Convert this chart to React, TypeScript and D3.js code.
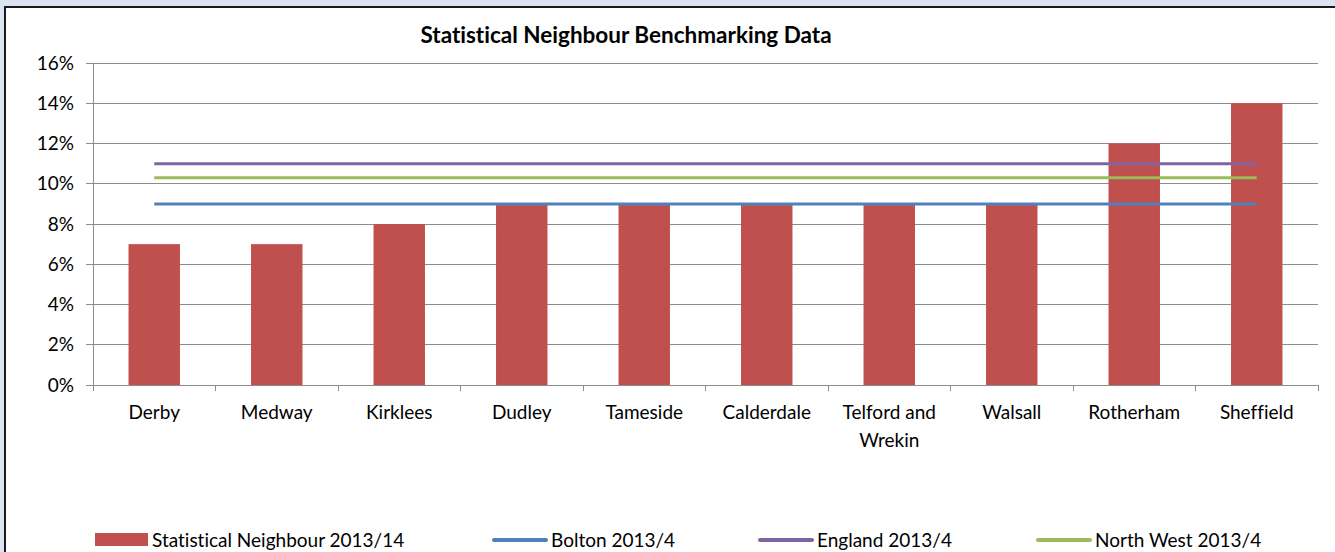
import * as d3 from "d3";

// values
const areas = ["Derby", "Medway", "Kirklees", "Dudley", "Tameside", "Calderdale", "Telford and Wrekin", "Walsall", "Rotherham", "Sheffield"];
const neighbourVals = [7, 7, 8, 9, 9, 9, 9, 9, 12, 14];
const refLines = [
  { label: "Bolton 2013/4", value: 9, color: "#4f81bd" },
  { label: "England 2013/4", value: 11, color: "#8064a2" },
  { label: "North West 2013/4", value: 10.3, color: "#9bbb59" },
];
const yTicks = [0, 2, 4, 6, 8, 10, 12, 14, 16];

const W = 1335, H = 552;
const FONT = "Lato, 'Open Sans', sans-serif";
const BAR = "#c0504d";
const FS = 19;

export default function App() {
  const x = d3.scaleBand<string>().domain(areas).range([93, 1318]).paddingInner(0.58).paddingOuter(0.29);
  const band = d3.scaleBand<string>().domain(areas).range([93, 1318]);
  const y = d3.scaleLinear().domain([0, 16]).range([385, 63]);
  const mid = (a: string) => (band(a) ?? 0) + band.bandwidth() / 2;
  const first = mid(areas[0]), last = mid(areas[areas.length - 1]);

  const legend = [
    { label: "Statistical Neighbour 2013/14", x: 95, kind: "bar", color: BAR },
    { label: refLines[0].label, x: 494, kind: "line", color: refLines[0].color },
    { label: refLines[1].label, x: 760, kind: "line", color: refLines[1].color },
    { label: refLines[2].label, x: 1038, kind: "line", color: refLines[2].color },
  ];

  return (
    <svg width={W} height={H}
         style={{ position: "absolute", left: 0, top: 0, background: "#fff", fontVariantLigatures: "none" }}
         fontFamily={FONT}>
      {/* frame */}
      <rect x={0} y={0} width={W} height={6} fill="#dbe5f1" />
      <rect x={0} y={0} width={4} height={H} fill="#dbe5f1" />
      <line x1={5} y1={7} x2={W} y2={7} stroke="#1a1a1a" strokeWidth={2} />
      <line x1={5} y1={6} x2={5} y2={H} stroke="#1a1a1a" strokeWidth={2} />

      <text x={626} y={43} textAnchor="middle" fontWeight="bold" fontSize={22.5} fill="#000">
        Statistical Neighbour Benchmarking Data
      </text>

      {/* grid + y axis */}
      {yTicks.map((t) => (
        <g key={t}>
          <line x1={86} x2={1318} y1={y(t)} y2={y(t)} stroke="#8c8c8c" strokeWidth={1} shapeRendering="crispEdges" />
          <text x={74} y={y(t)} dy="0.35em" textAnchor="end" fontSize={FS} fill="#000">{t}%</text>
        </g>
      ))}
      <line x1={93} x2={93} y1={63} y2={391} stroke="#8c8c8c" shapeRendering="crispEdges" />
      {areas.map((a) => (
        <line key={a} x1={(band(a) ?? 0) + band.bandwidth()} x2={(band(a) ?? 0) + band.bandwidth()}
              y1={385} y2={391} stroke="#8c8c8c" shapeRendering="crispEdges" />
      ))}

      {/* bars */}
      {areas.map((a, i) => (
        <rect key={a} x={x(a)} y={y(neighbourVals[i])} width={x.bandwidth()}
              height={y(0) - y(neighbourVals[i])} fill={BAR} />
      ))}

      {/* reference lines */}
      {refLines.map((r) => (
        <line key={r.label} x1={first} x2={last} y1={y(r.value)} y2={y(r.value)}
              stroke={r.color} strokeWidth={3} />
      ))}

      {/* category labels */}
      {areas.map((a) => {
        const lines = a === "Telford and Wrekin" ? ["Telford and", "Wrekin"] : [a];
        return (
          <text key={a} x={mid(a)} y={419} textAnchor="middle" fontSize={FS} fill="#000">
            {lines.map((l, j) => <tspan key={l} x={mid(a)} dy={j === 0 ? 0 : 28}>{l}</tspan>)}
          </text>
        );
      })}

      {/* legend */}
      {legend.map((l) => (
        <g key={l.label}>
          {l.kind === "bar"
            ? <rect x={l.x} y={533} width={53} height={13} fill={l.color} />
            : <line x1={l.x} x2={l.x + 52} y1={540} y2={540} stroke={l.color} strokeWidth={4} strokeLinecap="round" />}
          <text x={l.x + 57} y={540} dy="0.35em" fontSize={FS} fill="#000">{l.label}</text>
        </g>
      ))}
    </svg>
  );
}
